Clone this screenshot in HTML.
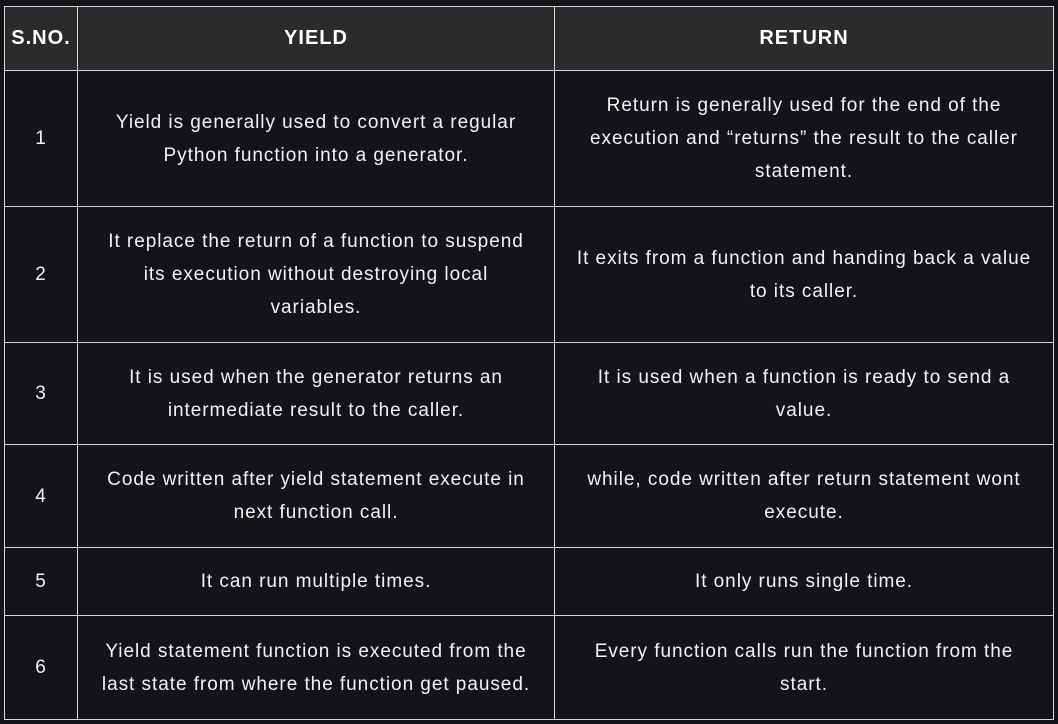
<!DOCTYPE html>
<html><head><meta charset="utf-8"><style>
html,body{margin:0;padding:0;background:#131418;width:1058px;height:724px;overflow:hidden}
table{position:absolute;left:4px;top:6px;border-collapse:collapse;table-layout:fixed;font-family:"Liberation Sans","DejaVu Sans",sans-serif;color:#f2f2f2}
td,th{border:1px solid #d8d8d8;text-align:center;vertical-align:middle;padding:0 4px;font-size:19px;letter-spacing:0.95px;line-height:33px;box-sizing:border-box;white-space:nowrap}
th{background:#2b2b2d;font-weight:bold;font-size:20px;letter-spacing:1px;color:#fff}
td{background:#131418}
</style></head><body>
<table>
<colgroup><col style="width:73px"><col style="width:477px"><col style="width:499px"></colgroup>
<tr style="height:64px"><th style="padding:0">S.NO.</th><th>YIELD</th><th>RETURN</th></tr>
<tr style="height:136px"><td>1</td><td>Yield is generally used to convert a regular<br>Python function into a generator.</td><td>Return is generally used for the end of the<br>execution and “returns” the result to the caller<br>statement.</td></tr>
<tr style="height:136px"><td>2</td><td>It replace the return of a function to suspend<br>its execution without destroying local<br>variables.</td><td>It exits from a function and handing back a value<br>to its caller.</td></tr>
<tr style="height:102px"><td>3</td><td>It is used when the generator returns an<br>intermediate result to the caller.</td><td>It is used when a function is ready to send a<br>value.</td></tr>
<tr style="height:103px"><td>4</td><td>Code written after yield statement execute in<br>next function call.</td><td>while, code written after return statement wont<br>execute.</td></tr>
<tr style="height:68px"><td>5</td><td>It can run multiple times.</td><td>It only runs single time.</td></tr>
<tr style="height:104px"><td>6</td><td>Yield statement function is executed from the<br>last state from where the function get paused.</td><td>Every function calls run the function from the<br>start.</td></tr>
</table>
</body></html>
